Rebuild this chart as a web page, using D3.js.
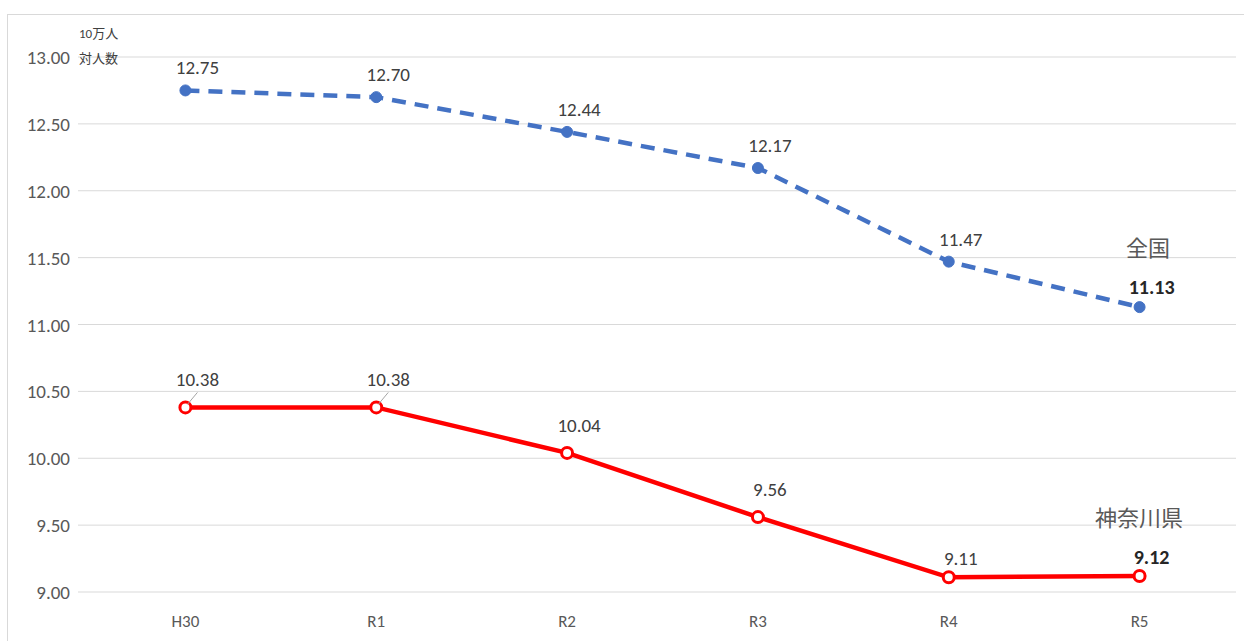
<!DOCTYPE html>
<html><head><meta charset="utf-8">
<script src="https://cdn.jsdelivr.net/npm/d3@7"></script>
<style>body{margin:0;background:#fff}text{font-family:Calibri,"Open Sans","Noto Sans CJK JP",sans-serif}</style>
</head><body>
<script>
const categories = ['H30', 'R1', 'R2', 'R3', 'R4', 'R5'];
const national = [12.75, 12.70, 12.44, 12.17, 11.47, 11.13];
const kanagawa = [10.38, 10.38, 10.04, 9.56, 9.11, 9.12];
const yTicks = [9, 9.5, 10, 10.5, 11, 11.5, 12, 12.5, 13];

const W = 1244, H = 641;
const svg = d3.select('body').append('svg').attr('width', W).attr('height', H);
svg.append('rect').attr('x', 7.5).attr('y', 14.5).attr('width', 1240).attr('height', 640)
   .attr('fill', 'none').attr('stroke', '#d9d9d9');

const x = d3.scaleBand().domain(categories).range([90, 1235]);
const y = d3.scaleLinear().domain([9, 13]).range([592, 57]);
const cx = d => x(d) + x.bandwidth() / 2;

// grid
svg.selectAll('.grid').data(yTicks).enter().append('line')
   .attr('x1', 78).attr('x2', 1236)
   .attr('y1', d => y(d)).attr('y2', d => y(d))
   .attr('stroke', '#d9d9d9').attr('stroke-width', 1);

svg.selectAll('.ytick').data(yTicks).enter().append('text')
   .attr('x', 70).attr('y', d => y(d) + 7).attr('text-anchor', 'end')
   .attr('font-size', 19).attr('fill', '#595959').text(d => d.toFixed(2));

svg.selectAll('.xtick').data(categories).enter().append('text')
   .attr('x', d => cx(d)).attr('y', 627).attr('text-anchor', 'middle')
   .attr('font-size', 17).attr('fill', '#595959').text(d => d);

svg.append('text').attr('x', 79).attr('y', 38).attr('font-size', 13).attr('fill', '#404040').text('10万人');
svg.append('text').attr('x', 79).attr('y', 63).attr('font-size', 13).attr('fill', '#404040').text('対人数');

const line = d3.line().x((d, i) => cx(categories[i])).y(d => y(d));

function series(vals, color, dash, labelDy, name, nameX, nameY) {
  svg.append('path').datum(vals).attr('d', line).attr('fill', 'none')
     .attr('stroke', color).attr('stroke-width', 4.5)
     .attr('stroke-dasharray', dash);
  svg.selectAll(null).data(vals).enter().append('circle')
     .attr('cx', (d, i) => cx(categories[i])).attr('cy', d => y(d)).attr('r', 5.5)
     .attr('fill', dash ? color : '#fff').attr('stroke', color).attr('stroke-width', dash ? 1 : 3);
  svg.selectAll(null).data(vals).enter().append('text')
     .attr('x', (d, i) => cx(categories[i]) + 12).attr('y', (d, i) => y(d) + labelDy(i))
     .attr('text-anchor', 'middle').attr('font-size', (d, i) => i === vals.length - 1 ? 20 : 19)
     .attr('font-weight', (d, i) => i === vals.length - 1 ? 'bold' : 'normal')
     .attr('fill', (d, i) => i === vals.length - 1 ? '#262626' : '#404040')
     .text(d => d.toFixed(2));
  svg.append('text').attr('x', nameX).attr('y', nameY).attr('text-anchor', 'middle')
     .attr('font-size', 22).attr('fill', '#595959').text(name);
}

series(national, '#4472c4', '14,9', i => i === 5 ? -13 : -16, '全国', 1148, 256);
series(kanagawa, '#ff0000', null, i => i >= 4 ? -12 : -21, '神奈川県', 1139, 526);

// leader lines for the 10.38 labels
[0, 1].forEach(i => {
  svg.append('line').attr('x1', cx(categories[i]) + 2).attr('y1', y(kanagawa[i]) - 3)
     .attr('x2', cx(categories[i]) + 12).attr('y2', y(kanagawa[i]) - 15)
     .attr('stroke', '#a6a6a6').attr('stroke-width', 1);
});
</script>
</body></html>
